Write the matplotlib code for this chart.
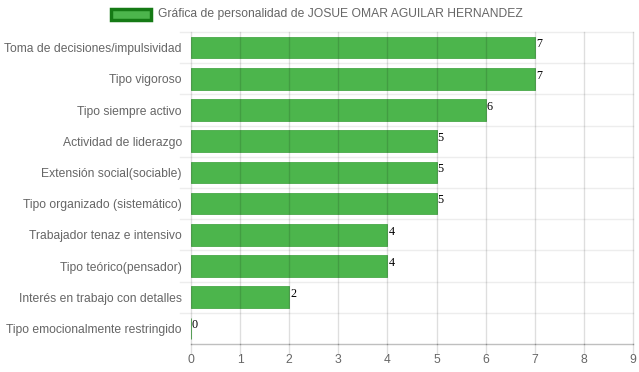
import matplotlib.pyplot as plt
from matplotlib.patches import Rectangle

categories = [
    'Toma de decisiones/impulsividad',
    'Tipo vigoroso',
    'Tipo siempre activo',
    'Actividad de liderazgo',
    'Extensión social(sociable)',
    'Tipo organizado (sistemático)',
    'Trabajador tenaz e intensivo',
    'Tipo teórico(pensador)',
    'Interés en trabajo con detalles',
    'Tipo emocionalmente restringido',
]
values = [7, 7, 6, 5, 5, 5, 4, 4, 2, 0]
legend_label = 'Gráfica de personalidad de JOSUE OMAR AGUILAR HERNANDEZ'
xticks = list(range(0, 10))

plt.rcParams['font.family'] = ['Liberation Sans', 'DejaVu Sans']

fig = plt.figure(figsize=(6.39, 3.72), dpi=100)
ax = fig.add_axes([191 / 639, 1 - 344 / 372, 442 / 639, 312 / 372])

n = len(categories)
ypos = list(range(n))
ax.barh(ypos, values, height=0.69, color='#4cb54c', edgecolor='#48a848',
        linewidth=0.6, zorder=2)

ax.set_xlim(0, 9)
ax.set_ylim(n - 0.5, -0.5)

# vertical grid over bars (chart.js look)
for xv in xticks:
    ax.plot([xv, xv], [-0.5, n - 0.5], color='#000000', alpha=0.13,
            linewidth=1, zorder=3, clip_on=False)
    ax.plot([xv, xv], [n - 0.5, n - 0.22], color='#000000', alpha=0.13,
            linewidth=1, zorder=3, clip_on=False)
# horizontal separators
for yb in [i - 0.5 for i in range(n)]:
    ax.plot([-0.22, 9], [yb, yb], color='#000000', alpha=0.07,
            linewidth=1, zorder=1, clip_on=False)
ax.plot([0, 9], [n - 0.5, n - 0.5], color='#000000', alpha=0.25,
        linewidth=1, zorder=3, clip_on=False)

for s in ax.spines.values():
    s.set_visible(False)

ax.set_xticks(xticks)
ax.set_xticklabels([str(t) for t in xticks])
ax.set_yticks(ypos)
ax.set_yticklabels(categories)
ax.tick_params(axis='both', length=0, labelsize=8.7, labelcolor='#666666')
ax.tick_params(axis='x', pad=7)
ax.tick_params(axis='y', pad=6.5)

for y, v in zip(ypos, values):
    ax.text(v + 0.02, y - 0.1, str(v), ha='left', va='center',
            fontsize=8.7, family='Liberation Serif', color='#000000', zorder=4)

# legend
fig.patches.append(Rectangle((111 / 639, 1 - 20 / 372), 40 / 639, 11 / 372,
                             transform=fig.transFigure, facecolor='#4cb54c',
                             edgecolor='#157a15', linewidth=2.5))
fig.text(158 / 639, 1 - 14 / 372, legend_label, ha='left', va='center',
         fontsize=8.7, color='#666666')

plt.savefig('out.png', dpi=100, facecolor='white')
